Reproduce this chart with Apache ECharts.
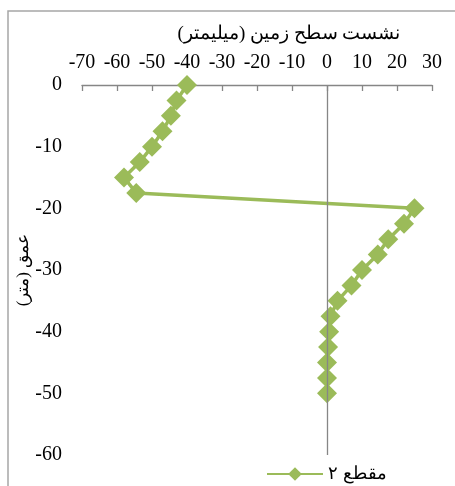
<!DOCTYPE html>
<html>
<head>
<meta charset="utf-8">
<script src="https://cdn.jsdelivr.net/npm/echarts@6/dist/echarts.min.js"></script>
<style>
  html, body { margin: 0; padding: 0; background: #fff; }
  #chart { width: 455px; height: 486px; }
</style>
</head>
<body>
<div id="chart"></div>
<script>
// Depth below ground (m) and settlement (mm) for section 2
const depths = [0, -2.5, -5, -7.5, -10, -12.5, -15, -17.5, -20, -22.5, -25, -27.5, -30, -32.5, -35, -37.5, -40, -42.5, -45, -47.5, -50];
const settlement = [-40, -43, -44.6, -47, -50, -53.5, -58, -54.5, 25, 22, 17.5, 14.5, 10, 7, 3, 1, 0.6, 0.3, 0, 0, 0];
const seriesName = 'مقطع ۲';
const xTitle = 'نشست سطح زمین (میلیمتر)';
const yTitle = 'عمق (متر)';

const font = 'Liberation Serif, "Times New Roman", serif';
const green = '#9BBB59';
const axisGray = '#868686';

const chart = echarts.init(document.getElementById('chart'), null, { renderer: 'canvas' });
chart.setOption({
  animation: false,
  backgroundColor: '#fff',
  graphic: [{
    type: 'rect',
    shape: { x: 8, y: 11, width: 470, height: 500 },
    style: { fill: 'none', stroke: '#a6a6a6', lineWidth: 1.5 },
    silent: true
  }],
  grid: { left: 82, right: 23, top: 85, bottom: 31, containLabel: false },
  legend: {
    left: 261, top: 460,
    itemWidth: 56, itemHeight: 17, itemGap: 4,
    textStyle: { fontFamily: font, fontSize: 18, color: '#000' },
    data: [seriesName]
  },
  xAxis: {
    type: 'value', position: 'top',
    min: -70, max: 30, interval: 10,
    name: xTitle, nameLocation: 'middle', nameGap: 41,
    nameTextStyle: { fontFamily: font, fontSize: 19, color: '#000', padding: [0, 0, 0, 64] },
    axisLine: { show: true, onZero: false, lineStyle: { color: axisGray, width: 1.3 } },
    axisTick: { show: true, inside: true, length: 6, lineStyle: { color: axisGray, width: 1.3 } },
    axisLabel: { fontFamily: font, fontSize: 20, color: '#000', margin: 12 },
    splitLine: { show: false }
  },
  yAxis: {
    type: 'value',
    min: -60, max: 0, interval: 10,
    name: yTitle, nameLocation: 'middle', nameRotate: 90, nameGap: 50,
    nameMoveOverlap: false,
    nameTextStyle: { fontFamily: font, fontSize: 17, color: '#000' },
    axisLine: { show: false, onZero: false },
    axisTick: { show: false },
    axisLabel: { fontFamily: font, fontSize: 20, color: '#000', margin: 20 },
    splitLine: { show: false }
  },
  series: [{
    name: seriesName,
    type: 'line',
    data: settlement.map((v, i) => [v, depths[i]]),
    symbol: 'diamond', symbolSize: 20,
    lineStyle: { color: green, width: 3.5 },
    itemStyle: { color: green },
    z: 3,
    markLine: {
      silent: true, symbol: 'none', animation: false,
      label: { show: false },
      lineStyle: { color: axisGray, width: 1.3, type: 'solid' },
      data: [{ xAxis: 0 }]
    }
  }]
});
</script>
</body>
</html>
